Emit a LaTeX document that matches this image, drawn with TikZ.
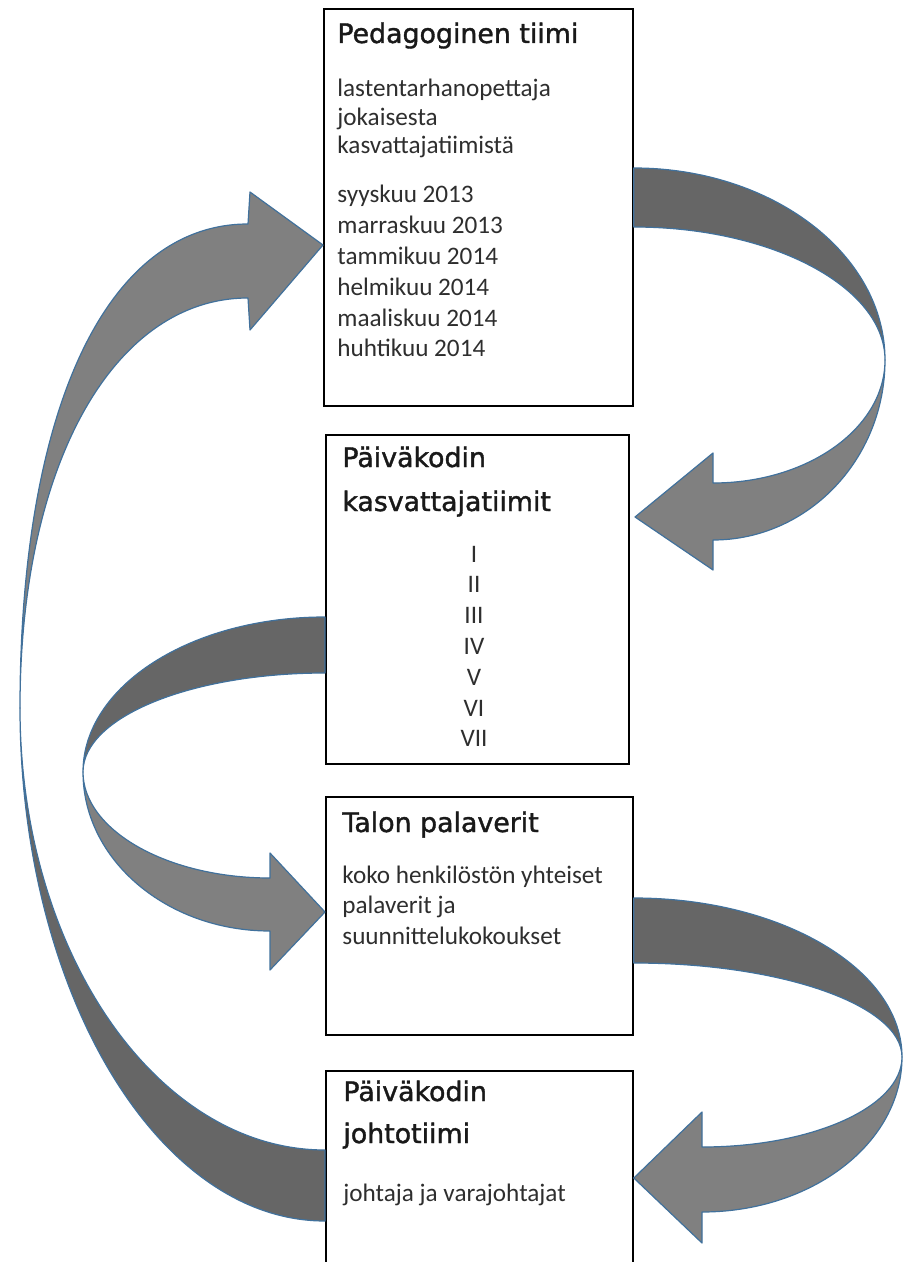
\documentclass[tikz,border=0pt]{standalone}
\usepackage{fontspec}
\setmainfont{Carlito}
\newfontfamily\headfont[FakeBold=1.4]{DejaVu Sans}
\definecolor{bandDark}{HTML}{666666}
\definecolor{bandLight}{HTML}{808080}
\definecolor{bandEdge}{HTML}{41719C}
\begin{document}
\begin{tikzpicture}[
    x=0.5pt, y=-0.5pt,
    teambox/.style={draw, line width=0.9pt, inner sep=0pt, anchor=north west},
    boxhead/.style={font=\headfont\fontsize{13.4}{21.5}\selectfont, text=black!90, anchor=base west, inner sep=0pt, align=left},
    boxtext/.style={font=\fontsize{12.6}{15}\selectfont, text=black!82, anchor=base west, inner sep=0pt},
    darkband/.style={fill=bandDark, draw=bandEdge, line width=0.6pt, line join=round},
    lightband/.style={fill=bandLight, draw=bandEdge, line width=0.6pt, line join=round}
]
\useasboundingbox (0,0) rectangle (903,1262);
% boxes
\node[teambox, minimum width=154.5pt, minimum height=198.5pt] (ped) at (323,8) {};
\node[teambox, minimum width=151.5pt, minimum height=164.5pt] (kas) at (325,434) {};
\node[teambox, minimum width=153.5pt, minimum height=119pt] (tal) at (325,796) {};
\node[teambox, minimum width=153.5pt, minimum height=130pt] (joh) at (325,1070) {};
% ped -> kas
\draw[darkband] (ped.east |- 0,168) .. controls (772,168) and (885,254) .. (885,360)
  .. controls (885,287) and (772,227) .. (ped.east |- 0,227) -- cycle;
\draw[lightband] (885,360) .. controls (885,459) and (808,540) .. (713,540) -- (713,570)
  -- (635,517) -- (713,453) -- (713,483) .. controls (808,483) and (885,428) .. (885,360) -- cycle;
% kas -> tal
\draw[darkband] (kas.west |- 0,617) .. controls (191,617) and (83,686) .. (83,772)
  .. controls (83,717) and (191,673) .. (kas.west |- 0,673) -- cycle;
\draw[lightband] (83,772) .. controls (83,860) and (167,931) .. (270,931) -- (270,970)
  -- (tal.west |- 0,912) -- (270,853) -- (270,878) .. controls (167,878) and (83,830) .. (83,772) -- cycle;
% tal -> joh
\draw[darkband] (tal.east |- 0,898) .. controls (781,898) and (902,969) .. (902,1057)
  .. controls (902,1005) and (781,963) .. (tal.east |- 0,963) -- cycle;
\draw[lightband] (902,1057) .. controls (902,1143) and (812,1212) .. (702,1212) -- (702,1243)
  -- (joh.east |- 0,1178) -- (702,1112) -- (702,1147) .. controls (812,1147) and (902,1107) .. (902,1057) -- cycle;
% joh -> ped
\draw[darkband] (joh.west |- 0,1150) .. controls (157,1150) and (20,952) .. (20,708)
  .. controls (20,991) and (157,1221) .. (joh.west |- 0,1221) -- cycle;
\draw[lightband] (20,708) .. controls (20,408) and (107,224) .. (248,224) -- (250,192)
  -- (ped.west |- 0,245) -- (250,330) -- (248,298) .. controls (115,298) and (20,462) .. (20,708) -- cycle;
% texts
\node[boxhead] (pedhead) at (337,43) {Pedagoginen tiimi};
\foreach \txt [count=\i from 0] in {lastentarhanopettaja, jokaisesta, kasvattajatiimistä}
  \node[boxtext] (pedrole\i) at (337,97+28.5*\i) {\txt};
\foreach \txt [count=\i from 0] in {syyskuu 2013, marraskuu 2013, tammikuu 2014, helmikuu 2014, maaliskuu 2014, huhtikuu 2014}
  \node[boxtext] (peddate\i) at (337,203+30.8*\i) {\txt};
\node[boxhead] (kashead) at (342,511) {Päiväkodin\\[0.5pt]kasvattajatiimit};
\foreach \txt [count=\i from 0] in {I, II, III, IV, V, VI, VII}
  \node[boxtext, anchor=base] (kasteam\i) at (474,562+30.8*\i) {\txt};
\node[boxhead] (talhead) at (342,832) {Talon palaverit};
\foreach \txt [count=\i from 0] in {koko henkilöstön yhteiset, palaverit ja, suunnittelukokoukset}
  \node[boxtext] (taltext\i) at (342,883+30.5*\i) {\txt};
\node[boxhead] (johhead) at (343,1143) {Päiväkodin\\[-0.5pt]johtotiimi};
\node[boxtext] (johtext) at (343,1201) {johtaja ja varajohtajat};
\end{tikzpicture}
\end{document}
